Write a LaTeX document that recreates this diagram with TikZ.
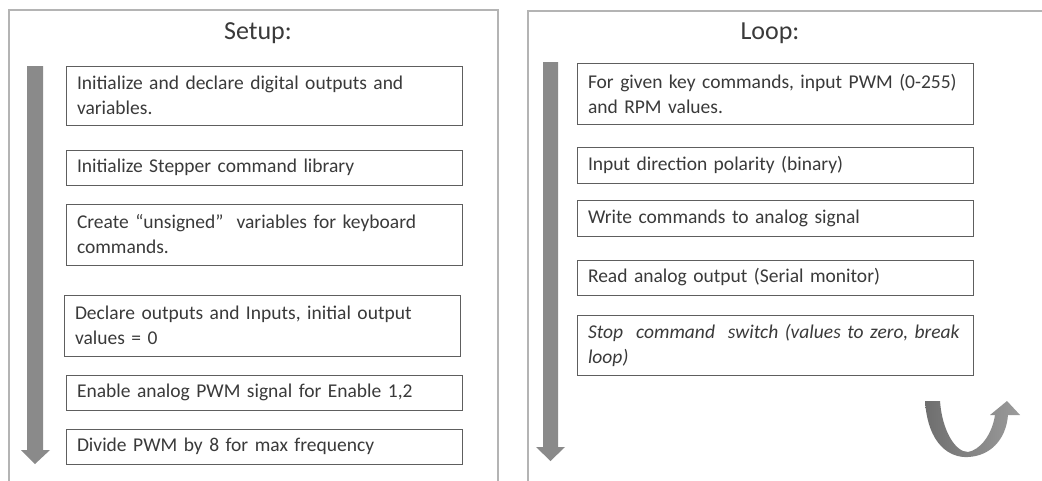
\documentclass[tikz,border=0pt]{standalone}
\usepackage{fontspec}
\setmainfont{Carlito}
\begin{document}
\begin{tikzpicture}[x=1pt,y=-1pt,
  stepbox/.style={draw=boxgray, line width=1pt, rectangle, inner xsep=11pt, inner ysep=0pt,
    align=left, font=\fontsize{19.5}{25}\selectfont, text=textgray, anchor=center},
  panel/.style={draw=panelgray, line width=1.2pt},
  title/.style={font=\fontsize{26}{30}\selectfont, text=textgray, anchor=base},
  bigarrow/.style={fill=arrowgray, draw=none}]
\definecolor{textgray}{HTML}{3A3A3A}
\definecolor{boxgray}{HTML}{5E5E5E}
\definecolor{panelgray}{HTML}{B4B4B4}
\definecolor{arrowgray}{HTML}{8A8A8A}
\useasboundingbox (0,0) rectangle (1042,480);
\fill[white] (0,0) rectangle (1042,480);

% panels
\draw[panel] (9,490) -- (9,10) -- (498,10) -- (498,490);
\draw[panel] (528,490) -- (528,11) -- (1050,11);
\node[title] (tsetup) at (258,39) {Setup:};
\node[title] (tloop) at (770,39) {Loop:};

% left big arrow
\fill[bigarrow] (27,66) -- (43,66) -- (43,450) -- (50,450) -- (35,464) -- (21,450) -- (27,450) -- cycle;
% right big arrow
\fill[bigarrow] (543,62) -- (558,62) -- (558,447) -- (565,447) -- (550.5,461) -- (536,447) -- (543,447) -- cycle;

% setup boxes
\node[stepbox, minimum width=396, minimum height=59, text width=374] (s1) at (264,95.5)
  {Initialize and declare digital outputs and\\variables.};
\node[stepbox, minimum width=396, minimum height=35, text width=374] (s2) at (264,167.5)
  {Initialize Stepper command library};
\node[stepbox, minimum width=396, minimum height=61, text width=374] (s3) at (264,234.5)
  {Create “unsigned”\ \ variables for keyboard\\commands.};
\node[stepbox, minimum width=396, minimum height=61, text width=374] (s4) at (262,325.5)
  {Declare outputs and Inputs, initial output\\values = 0};
\node[stepbox, minimum width=396, minimum height=35, text width=374] (s5) at (264,392.5)
  {Enable analog PWM signal for Enable 1,2};
\node[stepbox, minimum width=396, minimum height=35, text width=374] (s6) at (264,446.5)
  {Divide PWM by 8 for max frequency};

% loop boxes
\node[stepbox, minimum width=396, minimum height=61, text width=374] (l1) at (775,93.5)
  {\mbox{For given key commands, input PWM (0-255)}\\and RPM values.};
\node[stepbox, minimum width=396, minimum height=36, text width=374] (l2) at (775,165)
  {Input direction polarity (binary)};
\node[stepbox, minimum width=396, minimum height=36, text width=374] (l3) at (775,218)
  {Write commands to analog signal};
\node[stepbox, minimum width=396, minimum height=35, text width=374] (l4) at (775,277.5)
  {Read analog output (Serial monitor)};
\node[stepbox, minimum width=396, minimum height=60, text width=374, font=\fontsize{19.5}{25}\selectfont\itshape] (l5) at (775,345)
  {\mbox{Stop\ \ command\ \ switch (values to zero, break}\\loop)};

% u-turn arrow
\shade[left color=arrowgray!80!black, right color=arrowgray!85!white]
  (925,401) .. controls (928,445) and (950,458) .. (968,457)
  .. controls (990,456) and (1006,440) .. (1008,415)
  -- (1020,415) -- (1007,401) -- (990,415) -- (995,415)
  .. controls (992,435) and (980,450) .. (968,452)
  .. controls (955,452) and (942,430) .. (940,401) -- cycle;
\end{tikzpicture}
\end{document}
